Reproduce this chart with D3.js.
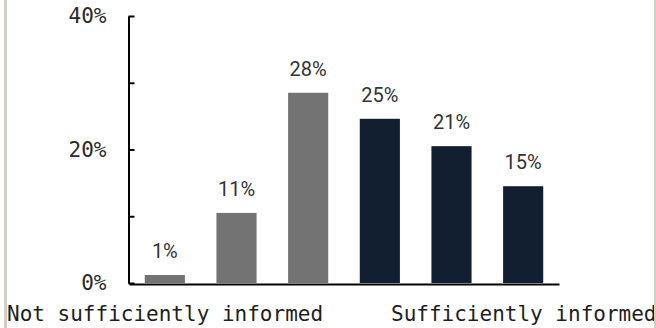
<!DOCTYPE html>
<html>
<head>
<meta charset="utf-8">
<script src="https://cdn.jsdelivr.net/npm/d3@7"></script>
<style>
  html, body { margin: 0; padding: 0; background: #fff; }
  #frame { position: absolute; left: 4px; top: 0; width: 647px; height: 328px;
           border-left: 3px solid #d2cec6; border-right: 2px solid #d2cec6; overflow: hidden; }
  svg { display: block; }
</style>
</head>
<body>
<div id="frame"></div>
<script>
const categories = ["1", "2", "3", "4", "5", "6"];
const values = [1.2, 10.5, 28.5, 24.6, 20.5, 14.5];
const valueLabels = ["1%", "11%", "28%", "25%", "21%", "15%"];
const groups = ["not", "not", "not", "suff", "suff", "suff"];
const yTicks = [0, 10, 20, 30, 40];
const yTickLabels = ["0%", "", "20%", "", "40%"];
const groupLabels = ["Not sufficiently informed", "Sufficiently informed"];

const W = 647, H = 328, ox = 7; // svg origin at page x=7
const svg = d3.select("#frame").append("svg").attr("width", W).attr("height", H);

const x = d3.scaleBand().domain(categories).range([129 - ox, 559 - ox])
  .paddingInner(0.44).paddingOuter(0.22);
const y = d3.scaleLinear().domain([0, 40]).range([283, 16]);
const color = d3.scaleOrdinal().domain(["not", "suff"]).range(["#737373", "#111f30"]);

svg.selectAll("rect.bar").data(values).join("rect")
  .attr("class", "bar")
  .attr("x", (d, i) => x(categories[i]))
  .attr("width", x.bandwidth())
  .attr("y", d => y(d))
  .attr("height", d => y(0) - y(d))
  .attr("fill", (d, i) => color(groups[i]));

svg.selectAll("text.val").data(values).join("text")
  .attr("class", "val")
  .attr("x", (d, i) => x(categories[i]) + x.bandwidth() / 2)
  .attr("y", d => y(d) - 17)
  .attr("text-anchor", "middle")
  .attr("font-family", "Roboto, sans-serif")
  .attr("font-size", 20)
  .attr("fill", "#333")
  .text((d, i) => valueLabels[i]);

const yAxis = d3.axisLeft(y).tickValues(yTicks)
  .tickFormat((d, i) => yTickLabels[i])
  .tickSizeInner(-6).tickSizeOuter(0).tickPadding(22);
const gy = svg.append("g").attr("transform", `translate(${128.5 - ox},0)`).call(yAxis);
gy.select(".domain").attr("stroke", "#000").attr("stroke-width", 2);
gy.selectAll(".tick line").attr("stroke", "#000").attr("stroke-width", 2);
gy.selectAll(".tick text")
  .attr("font-family", "'DejaVu Sans Mono', monospace")
  .attr("font-size", 21).attr("fill", "#2a2a2a");

const xAxis = d3.axisBottom(x).tickSize(0).tickFormat("");
const gx = svg.append("g").attr("transform", `translate(0,${y(0) + 1})`).call(xAxis);
gx.select(".domain").attr("stroke", "#000").attr("stroke-width", 2);

svg.selectAll("text.grp").data(groupLabels).join("text")
  .attr("class", "grp")
  .attr("x", (d, i) => i === 0 ? 0 : 391 - ox)
  .attr("y", 320.5)
  .attr("font-family", "'DejaVu Sans Mono', monospace")
  .attr("font-size", 21)
  .attr("fill", "#1e1e1e")
  .text(d => d);
</script>
</body>
</html>
